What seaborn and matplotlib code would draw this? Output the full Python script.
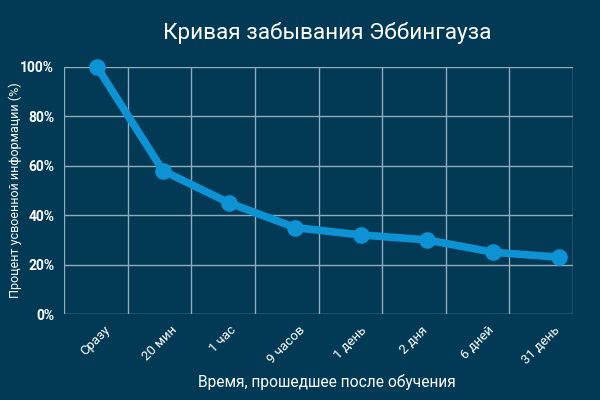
import numpy as np
import pandas as pd
import matplotlib
matplotlib.use("Agg")
import matplotlib.pyplot as plt
import seaborn as sns

categories = ["Сразу", "20 мин", "1 час", "9 часов", "1 день", "2 дня", "6 дней", "31 день"]
retention = [100, 58, 45, 35, 32, 30, 25, 23]
y_ticks = [0, 20, 40, 60, 80, 100]
y_tick_labels = ["0%", "20%", "40%", "60%", "80%", "100%"]

BG = "#023a56"
LINE = "#0d93d3"
GRID = "#93aab8"
TXT = "#ffffff"

sns.set_theme(style="dark")
plt.rcParams['font.family'] = ['Roboto', 'DejaVu Sans']

df = pd.DataFrame({"idx": np.arange(len(categories)), "val": retention})

fig = plt.figure(figsize=(6, 4), dpi=100, facecolor=BG)
ax = fig.add_axes([64/600, 1-314/400, (573-64)/600, (314-67)/400])
ax.set_facecolor(BG)

sns.lineplot(data=df, x="idx", y="val", ax=ax, color=LINE, linewidth=5.5,
             marker="o", markersize=12, markeredgewidth=0, clip_on=False, zorder=5)

n = len(categories)
left, right = -0.5, n - 1 + 0.21
ax.set_xlim(left, right)
ax.set_ylim(0, 100)

step = (right - left) / n
bounds = [left + k * step for k in range(n + 1)]
centers = [left + (k + 0.5) * step for k in range(n)]

ax.set_xticks(bounds, minor=True)
ax.set_xticks(centers)
ax.set_xticklabels(categories, rotation=45, ha="center", va="top", fontsize=9.5, color=TXT)
ax.tick_params(axis="x", which="both", length=0, pad=7)

ax.set_yticks(y_ticks)
ax.set_yticklabels(y_tick_labels, fontsize=10, fontweight="bold", color=TXT)
ax.tick_params(axis="y", length=0, pad=7)

ax.grid(False)
ax.grid(True, axis="y", which="major", color=GRID, linewidth=1)
ax.grid(True, axis="x", which="minor", color=GRID, linewidth=1)
for s in ax.spines.values():
    s.set_visible(False)

ax.set_xlabel("")
ax.set_ylabel("")
fig.text(327/600, 1-382/400, "Время, прошедшее после обучения", ha="center", va="center",
         fontsize=11.2, color=TXT)
fig.text(15/600, 1-190/400, "Процент усвоенной информации (%)", ha="center", va="center",
         rotation=90, fontsize=9, color=TXT)

fig.text(327/600, 1-33/400, "Кривая забывания Эббингауза", ha="center", va="center",
         fontsize=16.2, color=TXT)

fig.savefig("out.png", dpi=100, facecolor=BG)
